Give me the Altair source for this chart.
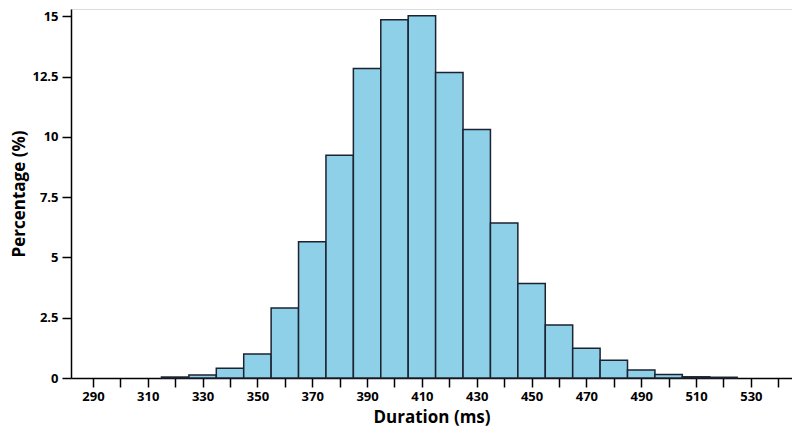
import altair as alt
import pandas as pd

centers = [320, 330, 340, 350, 360, 370, 380, 390, 400, 410, 420, 430, 440, 450, 460, 470, 480, 490, 500, 510, 520]
percent = [0.04, 0.12, 0.40, 1.00, 2.90, 5.65, 9.24, 12.83, 14.85, 15.02, 12.67, 10.30, 6.43, 3.92, 2.20, 1.23, 0.74, 0.33, 0.15, 0.05, 0.03]
bin_width = 10
x_ticks = list(range(290, 541, 10))
y_ticks = [0, 2.5, 5, 7.5, 10, 12.5, 15]

df = pd.DataFrame({
    "start": [c - bin_width / 2 for c in centers],
    "end": [c + bin_width / 2 for c in centers],
    "pct": percent,
    "zero": [0] * len(centers),
})

font = "Open Sans"
common = dict(grid=False, tickSize=9, domainColor="#000", tickColor="#000",
              labelFont=font, labelFontWeight="bold", labelFontSize=13, labelColor="#000",
              titleFont=font, titleFontWeight="bold", titleFontSize=17, titleColor="#000",
              domainWidth=1.5, tickWidth=1.5, labelFlush=False)

chart = alt.Chart(df).mark_bar(
    fill="#8dd0e8", stroke="#1c2230", strokeWidth=1.5
).encode(
    x=alt.X("start:Q", scale=alt.Scale(domain=[282, 545], nice=False, zero=False),
            axis=alt.Axis(title="Duration (ms)", values=x_ticks,
                          labelExpr="datum.value % 20 == 10 ? datum.label : ''",
                          labelPadding=3, titlePadding=6, **common)),
    x2="end:Q",
    y=alt.Y("pct:Q", scale=alt.Scale(domain=[0, 15.3], nice=False),
            axis=alt.Axis(title="Percentage (%)", values=y_ticks, format=".1~f",
                          labelPadding=4, titlePadding=3, **common)),
    y2="zero:Q",
).properties(
    width=784, height=421,
    autosize=alt.AutoSizeParams(type="fit", contains="padding"),
    padding={"left": 2, "top": 1, "right": 0, "bottom": 4},
).configure_view(stroke=None).configure(background="white")

chart.save("out.html", embed_options={"renderer": "svg", "actions": False})
